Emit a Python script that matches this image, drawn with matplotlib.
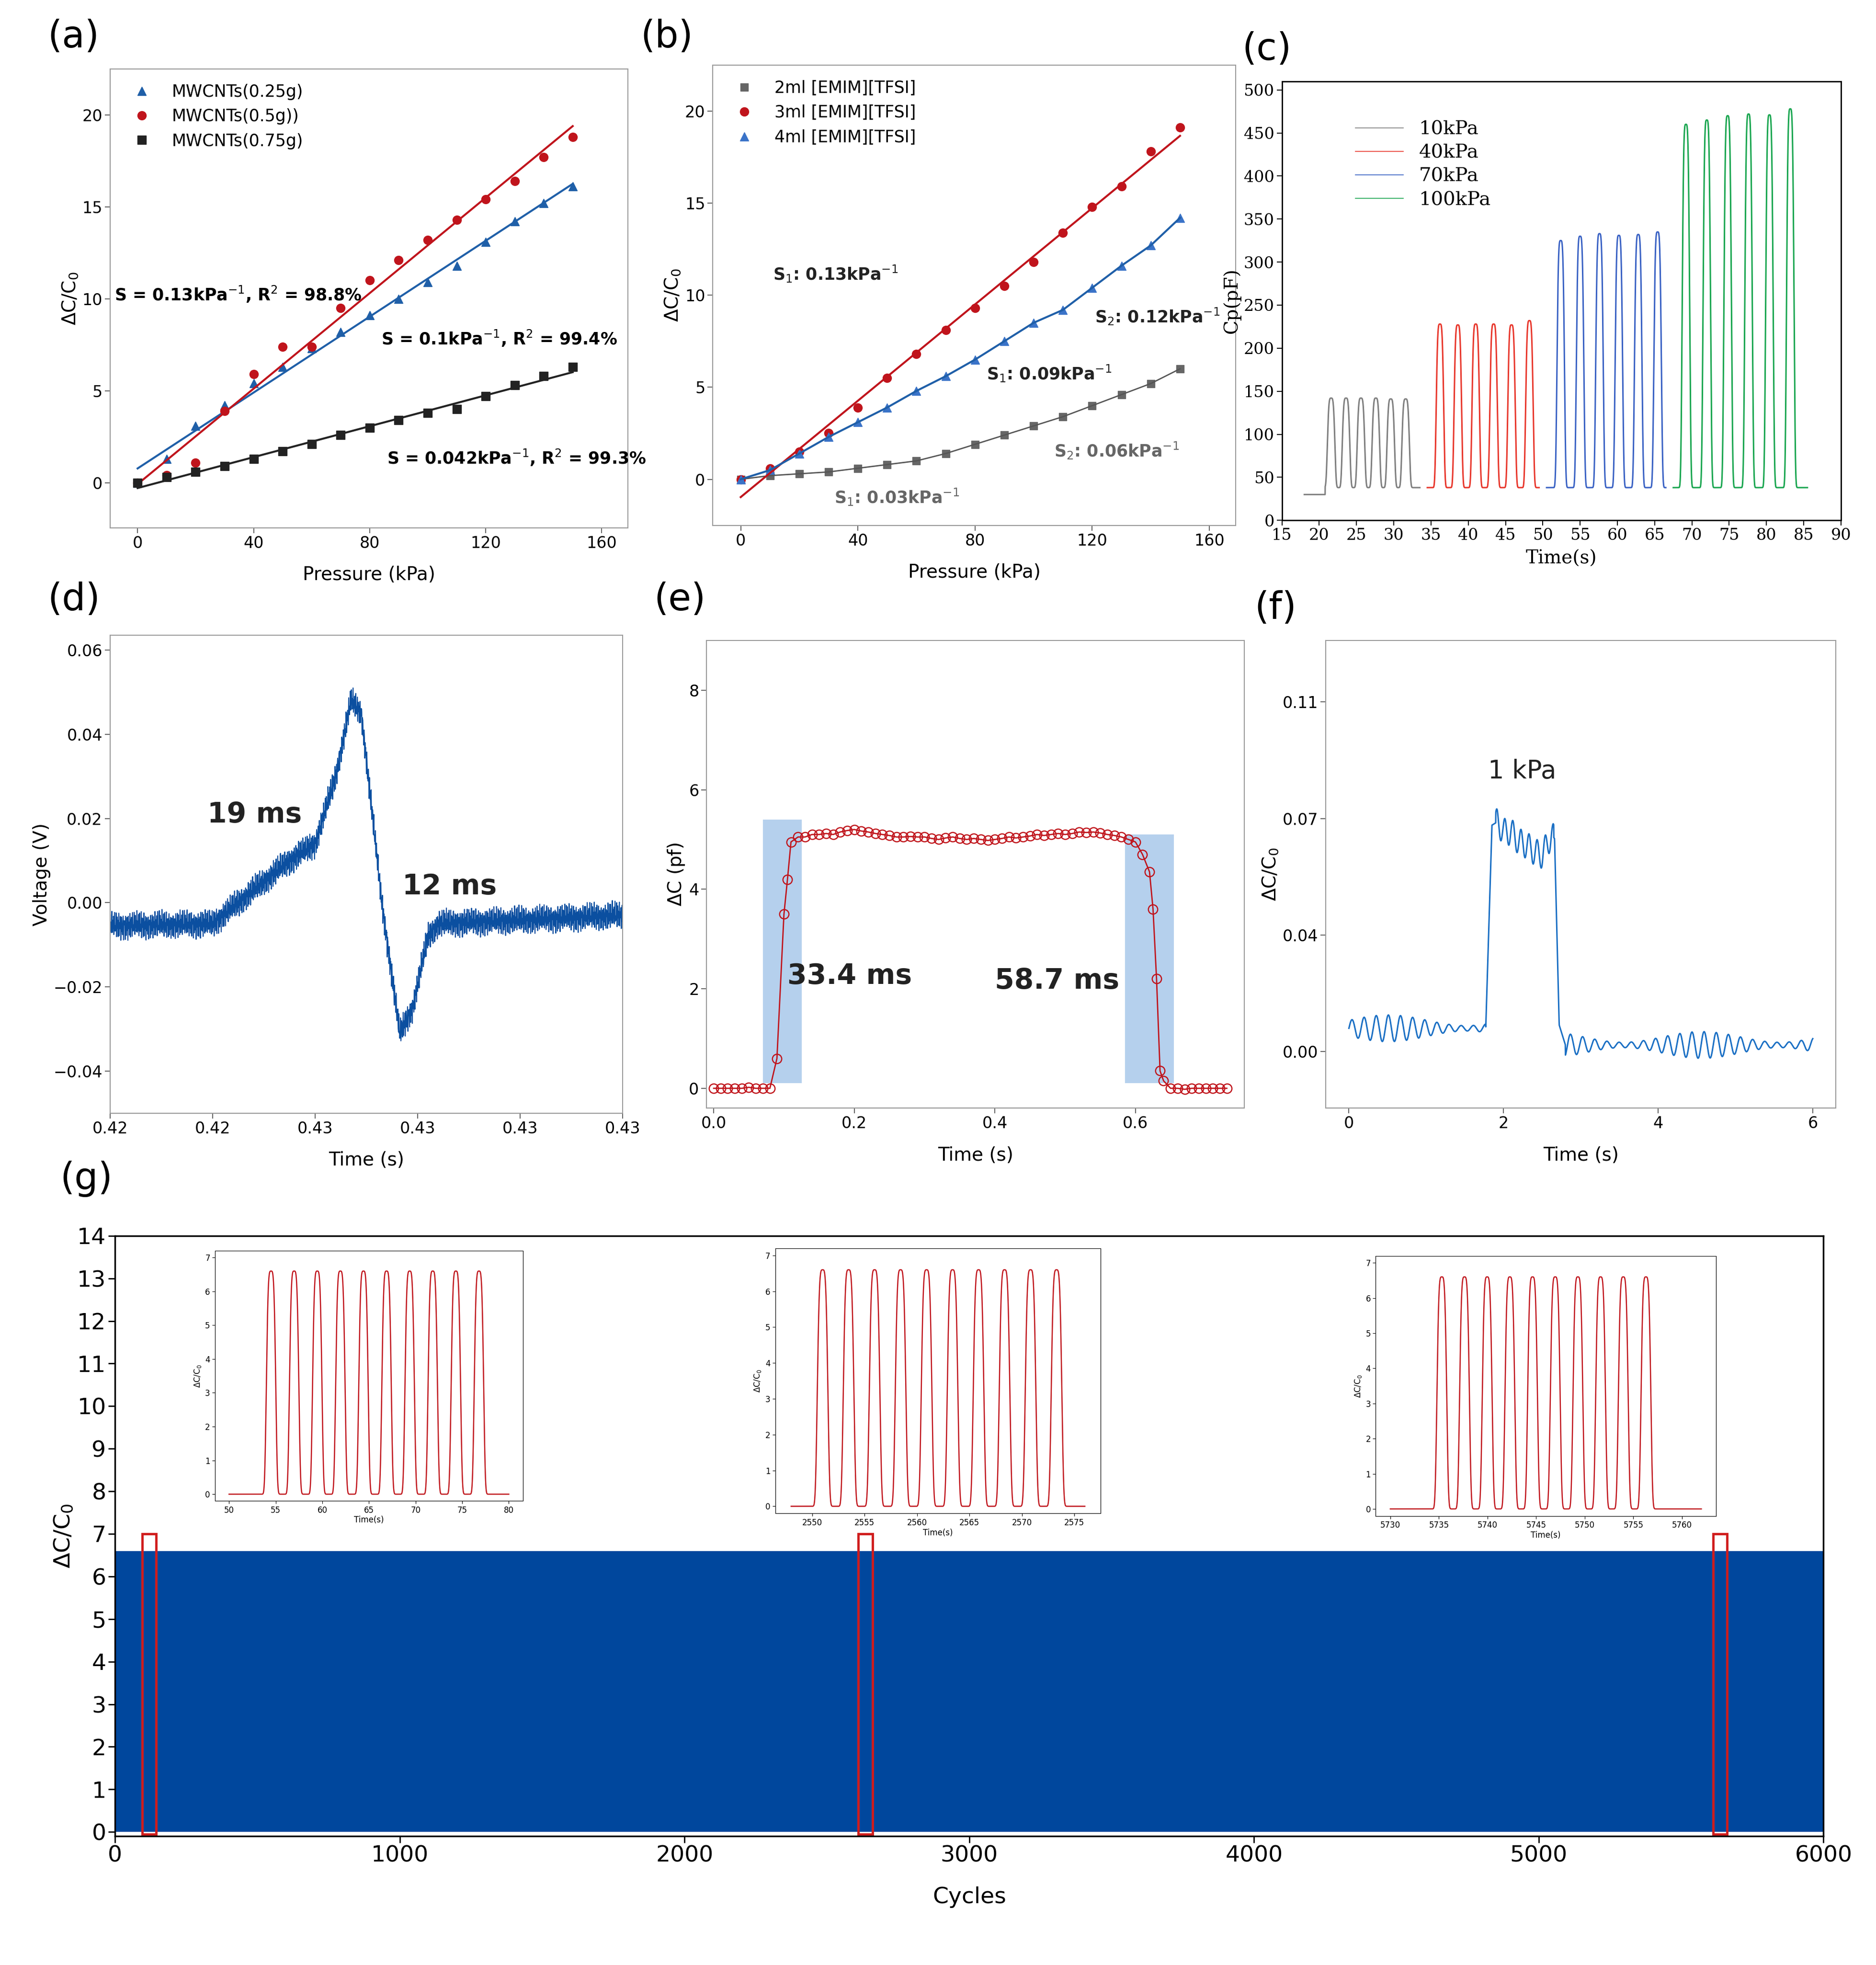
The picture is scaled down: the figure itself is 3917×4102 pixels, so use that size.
import numpy as np
import matplotlib
matplotlib.use("Agg")
import matplotlib.pyplot as plt
from matplotlib.patches import Rectangle

plt.rcParams['font.family'] = 'DejaVu Sans'
TS = 24
W, H = 1500.0, 1571.0

# ---------------- data ----------------
pressure = np.arange(0, 160, 10)
a_025 = [0, 1.3, 3.1, 4.2, 5.4, 6.3, 7.3, 8.2, 9.1, 10.0, 10.9, 11.8, 13.1, 14.2, 15.2, 16.1]
a_05 = [0, 0.4, 1.1, 3.9, 5.9, 7.4, 7.4, 9.5, 11.0, 12.1, 13.2, 14.3, 15.4, 16.4, 17.7, 18.8]
a_075 = [0, 0.3, 0.6, 0.9, 1.3, 1.7, 2.1, 2.6, 3.0, 3.4, 3.8, 4.0, 4.7, 5.3, 5.8, 6.3]

b_2ml = [0, 0.2, 0.3, 0.4, 0.6, 0.8, 1.0, 1.4, 1.9, 2.4, 2.9, 3.4, 4.0, 4.6, 5.2, 6.0]
b_3ml = [0, 0.6, 1.5, 2.5, 3.9, 5.5, 6.8, 8.1, 9.3, 10.5, 11.8, 13.4, 14.8, 15.9, 17.8, 19.1]
b_4ml = [0, 0.5, 1.4, 2.3, 3.1, 3.9, 4.8, 5.6, 6.5, 7.5, 8.5, 9.2, 10.4, 11.6, 12.7, 14.2]

c_labels = ['10kPa', '40kPa', '70kPa', '100kPa']
c_colors = ['#7f7f7f', '#e8372c', '#3a62c4', '#1aa650']
c_peaks = [[21.6, 23.6, 25.6, 27.6, 29.6, 31.6],
           [36.2, 38.6, 41.0, 43.4, 45.8, 48.2],
           [52.4, 55.0, 57.6, 60.2, 62.8, 65.4],
           [69.2, 72.0, 74.8, 77.6, 80.4, 83.2]]
c_heights = [[142, 142, 142, 142, 141, 141],
             [228, 227, 228, 228, 227, 232],
             [325, 330, 333, 331, 332, 335],
             [460, 465, 470, 472, 471, 478]]
c_spans = [(18, 33.5), (34.5, 49.5), (50.5, 66.5), (67.5, 85.5)]
c_base = 38

d_t = [0.0, 0.20, 0.28, 0.35, 0.40, 0.44, 0.47, 0.49, 0.53, 0.565, 0.59, 0.62, 0.64, 1.0]
d_v = [-0.0055, -0.005, 0.003, 0.010, 0.014, 0.030, 0.048, 0.045, 0.0, -0.031, -0.025, -0.008, -0.005, -0.003]

e_t = [0.0, 0.01, 0.02, 0.03, 0.04, 0.05, 0.06, 0.07, 0.08, 0.09, 0.10, 0.105, 0.11, 0.12, 0.13, 0.14,
       0.15, 0.16, 0.17, 0.18, 0.19, 0.20, 0.21, 0.22, 0.23, 0.24, 0.25, 0.26, 0.27, 0.28, 0.29, 0.30,
       0.31, 0.32, 0.33, 0.34, 0.35, 0.36, 0.37, 0.38, 0.39, 0.40, 0.41, 0.42, 0.43, 0.44, 0.45,
       0.46, 0.47, 0.48, 0.49, 0.50, 0.51, 0.52, 0.53, 0.54, 0.55, 0.56, 0.57, 0.58, 0.59, 0.60,
       0.61, 0.62, 0.625, 0.63, 0.635, 0.64,
       0.65, 0.66, 0.67, 0.68, 0.69, 0.70, 0.71, 0.72, 0.73]
e_c = [0, 0, 0, 0, 0, 0.02, 0, 0, 0, 0.6, 3.5, 4.2, 4.95, 5.05, 5.05, 5.1,
       5.1, 5.12, 5.1, 5.15, 5.18, 5.2, 5.17, 5.15, 5.12, 5.1, 5.08, 5.05, 5.05, 5.06, 5.05, 5.05,
       5.02, 5.0, 5.03, 5.05, 5.02, 5.0, 5.02, 5.0, 4.98, 5.0, 5.02, 5.05, 5.03, 5.05, 5.07,
       5.1, 5.08, 5.1, 5.12, 5.1, 5.12, 5.15, 5.14, 5.15, 5.13, 5.1, 5.08, 5.05, 5.0, 4.95,
       4.7, 4.35, 3.6, 2.2, 0.35, 0.15,
       0.0, 0, -0.02, 0, 0, 0, 0, 0, 0]

f_t = [0.0, 1.77, 1.85, 1.92, 2.0, 2.1, 2.2, 2.3, 2.4, 2.5, 2.62, 2.66, 2.72, 2.8, 6.0]
f_v = [0.007, 0.007, 0.068, 0.069, 0.066, 0.066, 0.063, 0.062, 0.060, 0.059, 0.065, 0.064, 0.008, 0.002, 0.002]

g_peaks_sets = [np.linspace(54.5, 76.8, 10), np.linspace(2551.0, 2573.3, 10), np.linspace(5735.3, 5756.3, 10)]
g_xlims = [(50, 80), (2548, 2576), (5730, 5762)]
g_xticks = [np.arange(50, 81, 5), np.arange(2550, 2576, 5), np.arange(5730, 5761, 5)]
g_amp = 6.6
g_marks = [95, 2610, 5612]

def ax_at(x0, y0, x1, y1):
    return fig.add_axes([x0 / W, 1 - y1 / H, (x1 - x0) / W, (y1 - y0) / H])

def pulses(t, centers, heights, width, base=0.0):
    y = np.full_like(t, base, dtype=float)
    for c, h in zip(centers, heights):
        y += (h - base) * np.exp(-((t - c) / width) ** 4)
    return y

fig = plt.figure(figsize=(39.17, 41.02), dpi=100)

def style(ax):
    for s in ax.spines.values():
        s.set_color('#999999'); s.set_linewidth(1.5)
    ax.tick_params(labelsize=TS, length=8, width=1.5, color='#666666')

LP = 22

# ---------------- (a) ----------------
ax = ax_at(88, 55, 502, 422); style(ax)
for y, col, mk, lab in [(a_025, '#1f5fa8', '^', 'MWCNTs(0.25g)'), (a_05, '#c0141c', 'o', 'MWCNTs(0.5g))'),
                        (a_075, '#222222', 's', 'MWCNTs(0.75g)')]:
    ax.plot(pressure, y, mk, color=col, ms=13, label=lab, ls='none')
    p = np.polyfit(pressure, y, 1)
    ax.plot(pressure, np.polyval(p, pressure), color=col, lw=3)
ax.set_xlim(-9.5, 169); ax.set_ylim(-2.45, 22.5)
ax.set_xticks([0, 40, 80, 120, 160]); ax.set_yticks([0, 5, 10, 15, 20])
ax.set_xlabel('Pressure (kPa)', fontsize=28, labelpad=LP)
ax.set_ylabel(r'$\Delta$C/C$_0$', fontsize=28)
ax.legend(loc='upper left', fontsize=25, frameon=False, handletextpad=0.8)
ax.text(-8, 9.9, r'S = 0.13kPa$^{-1}$, R$^2$ = 98.8%', fontsize=25, fontweight='bold')
ax.text(84, 7.5, r'S = 0.1kPa$^{-1}$, R$^2$ = 99.4%', fontsize=25, fontweight='bold')
ax.text(86, 1.0, r'S = 0.042kPa$^{-1}$, R$^2$ = 99.3%', fontsize=25, fontweight='bold')

# ---------------- (b) ----------------
ax = ax_at(570, 52, 988, 420); style(ax)
ax.plot(pressure, b_2ml, 's', color='#666666', ms=12, label='2ml [EMIM][TFSI]')
ax.plot(pressure, b_3ml, 'o', color='#c0141c', ms=13, label='3ml [EMIM][TFSI]')
ax.plot(pressure, b_4ml, '^', color='#3a73c8', ms=13, label='4ml [EMIM][TFSI]')
ax.plot(pressure, b_2ml, color='#555555', lw=2)
p = np.polyfit(pressure, b_3ml, 1)
ax.plot(pressure, np.polyval(p, pressure), color='#c0141c', lw=3)
ax.plot(pressure, b_4ml, color='#1f5fa8', lw=3)
ax.set_xlim(-9.5, 169); ax.set_ylim(-2.5, 22.5)
ax.set_xticks([0, 40, 80, 120, 160]); ax.set_yticks([0, 5, 10, 15, 20])
ax.set_xlabel('Pressure (kPa)', fontsize=28, labelpad=LP)
ax.set_ylabel(r'$\Delta$C/C$_0$', fontsize=28)
ax.legend(loc='upper left', fontsize=25, frameon=False)
ax.text(11, 10.8, r'S$_1$: 0.13kPa$^{-1}$', fontsize=25, fontweight='bold', color='#222222')
ax.text(121, 8.5, r'S$_2$: 0.12kPa$^{-1}$', fontsize=25, fontweight='bold', color='#222222')
ax.text(84, 5.4, r'S$_1$: 0.09kPa$^{-1}$', fontsize=25, fontweight='bold', color='#222222')
ax.text(107, 1.2, r'S$_2$: 0.06kPa$^{-1}$', fontsize=25, fontweight='bold', color='#666666')
ax.text(32, -1.3, r'S$_1$: 0.03kPa$^{-1}$', fontsize=25, fontweight='bold', color='#666666')

# ---------------- (c) ----------------
ax = ax_at(1025, 65, 1472, 416)
for s in ax.spines.values(): s.set_linewidth(2)
ax.tick_params(labelsize=TS, length=8, width=1.5)
for lab, col, pk, hh, sp in zip(c_labels, c_colors, c_peaks, c_heights, c_spans):
    t = np.linspace(sp[0], sp[1], 1500)
    y = pulses(t, pk, hh, 0.55, c_base)
    if lab == '10kPa':
        y = np.where(t < 20.8, 30, y)
    ax.plot(t, y, color=col, lw=2.2, label=lab)
ax.set_xlim(15, 90); ax.set_ylim(0, 510)
ax.set_xticks(np.arange(15, 91, 5)); ax.set_yticks(np.arange(0, 501, 50))
ax.set_xlabel('Time(s)', fontsize=28, family='serif', labelpad=10)
ax.set_ylabel('Cp(pF)', fontsize=28, family='serif')
for tl in ax.get_xticklabels() + ax.get_yticklabels(): tl.set_family('serif')
leg = ax.legend(loc='upper left', frameon=False, prop={'family': 'serif', 'size': 29},
                bbox_to_anchor=(0.1, 0.95), handlelength=2.5, labelspacing=0.3)
for l in leg.get_lines(): l.set_linewidth(1.2)

# ---------------- (d) ----------------
ax = ax_at(88, 508, 498, 890); style(ax)
t = np.linspace(0, 1, 4000)
v = np.interp(t, d_t, d_v)
tex = 0.0016 * np.sin(t * 2311.0) + 0.0012 * np.sin(t * 3727.0 + 1.3) + 0.0009 * np.sin(t * 5903.0 + 0.4)
ax.plot(t, v + tex, color='#0b4fa0', lw=1.5)
ax.set_xlim(0, 1); ax.set_ylim(-0.050, 0.0635)
ax.set_xticks(np.linspace(0, 1, 6)); ax.set_xticklabels(['0.42', '0.42', '0.43', '0.43', '0.43', '0.43'])
ax.set_yticks([-0.04, -0.02, 0.0, 0.02, 0.04, 0.06])
ax.set_yticklabels(['\u22120.04', '\u22120.02', '0.00', '0.02', '0.04', '0.06'])
ax.set_xlabel('Time (s)', fontsize=28, labelpad=LP); ax.set_ylabel('Voltage (V)', fontsize=28)
ax.text(0.19, 0.019, '19 ms', fontsize=42, fontweight='bold', color='#222222')
ax.text(0.57, 0.002, '12 ms', fontsize=42, fontweight='bold', color='#222222')

# ---------------- (e) ----------------
ax = ax_at(565, 512, 995, 886); style(ax)
ax.add_patch(Rectangle((0.07, 0.1), 0.055, 5.3, color='#a8c8ea', alpha=0.85, lw=0))
ax.add_patch(Rectangle((0.585, 0.1), 0.07, 5.0, color='#a8c8ea', alpha=0.85, lw=0))
ax.plot(e_t, e_c, color='#c0141c', lw=2)
ax.plot(e_t, e_c, 'o', mfc='none', mec='#c0141c', ms=14, mew=1.8)
ax.set_xlim(-0.01, 0.755); ax.set_ylim(-0.4, 9)
ax.set_xticks([0, 0.2, 0.4, 0.6]); ax.set_yticks([0, 2, 4, 6, 8])
ax.set_xlabel('Time (s)', fontsize=28, labelpad=LP); ax.set_ylabel(r'$\Delta$C (pf)', fontsize=28)
ax.text(0.105, 2.1, '33.4 ms', fontsize=42, fontweight='bold', color='#222222')
ax.text(0.4, 2.0, '58.7 ms', fontsize=42, fontweight='bold', color='#222222')

# ---------------- (f) ----------------
ax = ax_at(1060, 512, 1468, 886); style(ax)
t = np.linspace(0, 6, 3000)
v = np.interp(t, f_t, f_v)
osc = np.where((t < 1.77) | (t > 2.8), 0.004 * np.sin(t * 40.0) * (0.6 + 0.4 * np.sin(t * 3.1)), 0.0)
osc += np.where((t > 1.9) & (t < 2.65), 0.004 * np.sin(t * 60.0), 0.0)
ax.plot(t, v + osc, color='#1a6fc4', lw=2.2)
ax.set_xlim(-0.3, 6.3); ax.set_ylim(-0.017, 0.1235)
ax.set_xticks([0, 2, 4, 6]); ax.set_yticks([0, 0.035, 0.07, 0.105])
ax.set_yticklabels(['0.00', '0.04', '0.07', '0.11'])
ax.set_xlabel('Time (s)', fontsize=28, labelpad=LP); ax.set_ylabel(r'$\Delta$C/C$_0$', fontsize=28)
ax.text(1.8, 0.082, '1 kPa', fontsize=38, color='#222222')

# ---------------- (g) ----------------
ax = ax_at(92, 988, 1458, 1468)
for s in ax.spines.values(): s.set_linewidth(2.5)
ax.tick_params(labelsize=34, length=10, width=2)
ax.fill_between([0, 6000], [0, 0], [g_amp, g_amp], color='#00479d', lw=0)
for m in g_marks:
    ax.add_patch(Rectangle((m, -0.05), 50, 7.05, fill=False, ec='#d01c1c', lw=3.5))
ax.set_xlim(0, 6000); ax.set_ylim(-0.1, 14)
ax.set_xticks(np.arange(0, 6001, 1000)); ax.set_yticks(np.arange(0, 15, 1))
ax.set_xlabel('Cycles', fontsize=34, labelpad=30)
ax.set_ylabel(r'$\Delta$C/C$_0$', fontsize=34)

for (x0, y0, x1, y1), pk, xl, xt in zip([(172, 1000, 418, 1200), (620, 998, 880, 1210), (1100, 1004, 1372, 1212)],
                                        g_peaks_sets, g_xlims, g_xticks):
    ia = ax_at(x0, y0, x1, y1)
    tt = np.linspace(xl[0], xl[1], 3000)
    ia.plot(tt, pulses(tt, pk, [g_amp] * len(pk), 0.55), color='#c0141c', lw=1.8)
    ia.set_xlim(xl[0] - 1.5, xl[1] + 1.5); ia.set_ylim(-0.2, 7.2)
    ia.set_xticks(xt); ia.set_yticks(range(8))
    ia.tick_params(labelsize=12, length=4)
    ia.set_xlabel('Time(s)', fontsize=12, labelpad=2)
    ia.set_ylabel(r'$\Delta$C/C$_0$', fontsize=12)

for lab, x, y in [('(a)', 38, 15), ('(b)', 512, 15), ('(c)', 993, 25), ('(d)', 38, 465),
                  ('(e)', 523, 465), ('(f)', 1003, 472), ('(g)', 48, 928)]:
    fig.text(x / W, 1 - y / H, lab, fontsize=56, va='top')

fig.savefig('out.png', dpi=100)
